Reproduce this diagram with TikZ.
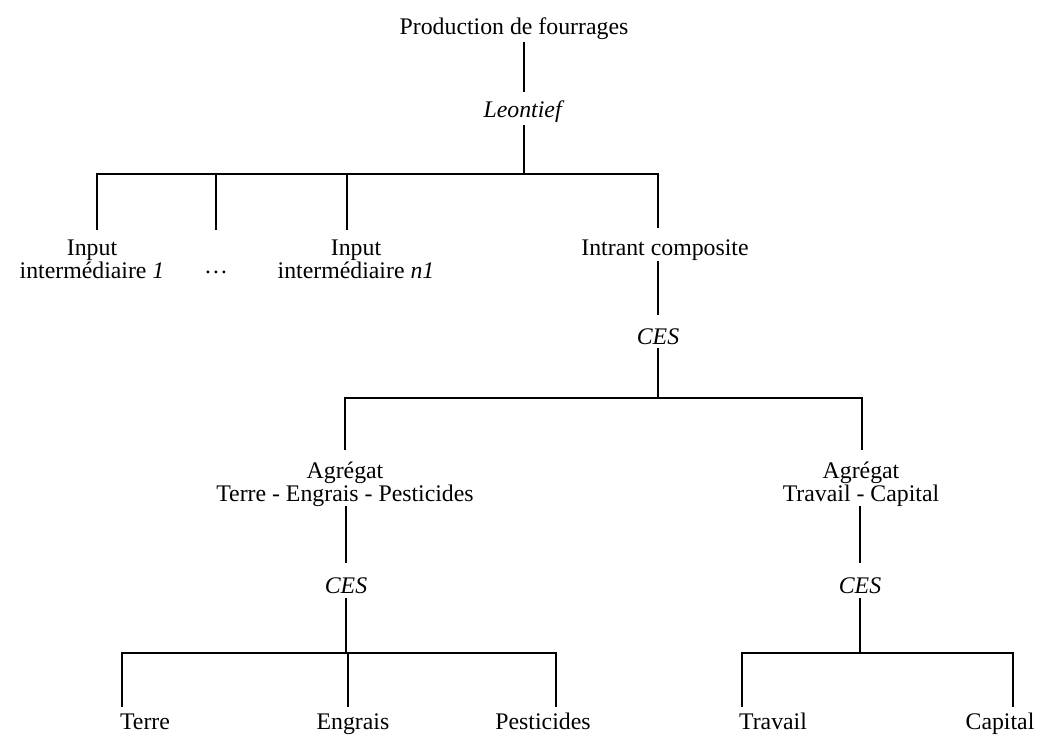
\documentclass[tikz,border=0pt]{standalone}
\usepackage{fontspec}
\setmainfont{Liberation Serif}
\begin{document}
\begin{tikzpicture}[x=1pt,y=-1pt,
  lbl/.style={inner sep=0pt,align=center,font=\fontsize{23.8}{23}\selectfont},
  one/.style={lbl,anchor=base},
  ln/.style={line width=2.4pt}]
\useasboundingbox (0,0) rectangle (1058,738);
% labels
\node[one] (title) at (514,35) {Production de fourrages};
\node[one] (leon) at (524,118) {\textit{Leontief}};
\node[lbl] (in1) at (92,259) {Input\\intermédiaire \textit{1}};
\node[one] (dots) at (216,273) {\dots};
\node[lbl] (inn) at (356,259) {Input\\intermédiaire \textit{n1}};
\node[one] (ic) at (665,255) {Intrant composite};
\node[one] (ces1) at (658,344) {\textit{CES}};
\node[lbl] (ag1) at (345,484) {Agrégat\\Terre - Engrais - Pesticides};
\node[lbl] (ag2) at (861,484) {Agrégat\\Travail - Capital};
\node[one] (ces2) at (346,593) {\textit{CES}};
\node[one] (ces3) at (860,593) {\textit{CES}};
\node[one] (terre) at (145,729) {Terre};
\node[one] (engrais) at (353,729) {Engrais};
\node[one] (pest) at (543,729) {Pesticides};
\node[one] (travail) at (773,729) {Travail};
\node[one] (capital) at (1000,729) {Capital};
% level 1
\coordinate (t1) at (524,42); \coordinate (t2) at (524,92);
\coordinate (t3) at (524,125); \coordinate (tj) at (524,174);
\coordinate (b1l) at (97,174); \coordinate (b1r) at (658,174);
\coordinate (d1a) at (97,230); \coordinate (d1b) at (216,174); \coordinate (d1bb) at (216,230);
\coordinate (d1c) at (347,174); \coordinate (d1cc) at (347,230); \coordinate (d1d) at (658,228);
\draw[ln] (t1) -- (t2);
\draw[ln] (t3) -- (tj);
\draw[ln] (d1a) -- (b1l) -- (b1r) -- (d1d);
\draw[ln] (d1b) -- (d1bb);
\draw[ln] (d1c) -- (d1cc);
% level 2
\coordinate (c1) at (658,261); \coordinate (c2) at (658,315);
\coordinate (c3) at (658,348); \coordinate (cj) at (658,398);
\coordinate (b2l) at (345,398); \coordinate (b2r) at (862,398);
\coordinate (d2a) at (345,450); \coordinate (d2b) at (862,450);
\draw[ln] (c1) -- (c2);
\draw[ln] (c3) -- (cj);
\draw[ln] (d2a) -- (b2l) -- (b2r) -- (d2b);
% level 3 left
\coordinate (l1) at (346,506); \coordinate (l2) at (346,563);
\coordinate (l3) at (346,598); \coordinate (lj) at (346,653);
\coordinate (b3l) at (122,653); \coordinate (b3r) at (556,653);
\coordinate (d3a) at (122,707); \coordinate (d3c) at (556,707);
\coordinate (d3bt) at (348,653); \coordinate (d3b) at (348,707);
\draw[ln] (l1) -- (l2);
\draw[ln] (l3) -- (lj);
\draw[ln] (d3a) -- (b3l) -- (b3r) -- (d3c);
\draw[ln] (d3bt) -- (d3b);
% level 3 right
\coordinate (r1) at (860,506); \coordinate (r2) at (860,563);
\coordinate (r3) at (860,598); \coordinate (rj) at (860,653);
\coordinate (b4l) at (742,653); \coordinate (b4r) at (1013,653);
\coordinate (d4a) at (742,707); \coordinate (d4b) at (1013,707);
\draw[ln] (r1) -- (r2);
\draw[ln] (r3) -- (rj);
\draw[ln] (d4a) -- (b4l) -- (b4r) -- (d4b);
\end{tikzpicture}
\end{document}
